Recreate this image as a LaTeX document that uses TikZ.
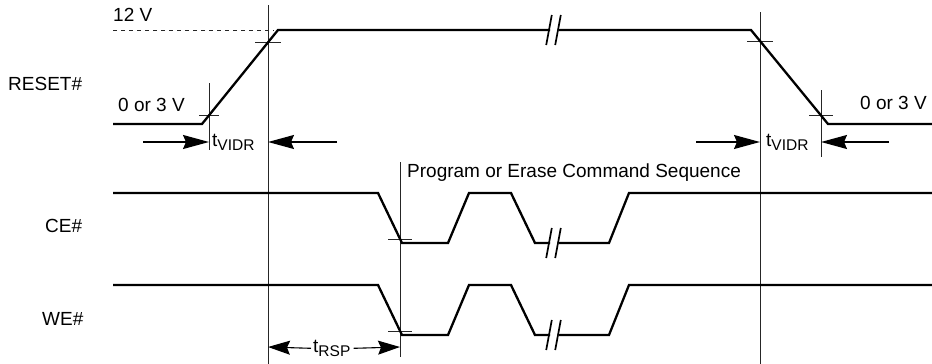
\documentclass[tikz,border=0pt]{standalone}
\usepackage{fontspec}
\setmainfont{Liberation Sans}
\usetikzlibrary{arrows.meta, calc}
\newcommand{\tsub}[1]{t\raisebox{-0.25em}{\fontsize{15.5}{16}\selectfont #1}}

\begin{document}
\begin{tikzpicture}[x=1pt, y=-1pt,
    sig/.style={line width=2.3pt, line join=miter},
    guide/.style={line width=0.8pt, black!85},
    brk/.style={line width=1.7pt},
    lbl/.style={font=\fontsize{19}{20}\selectfont, inner sep=0pt, anchor=base west},
    tarr/.style={-{Stealth[length=26pt, width=14pt, inset=3pt]}, line width=1.4pt},
    sarr/.style={-{Stealth[length=22pt, width=14pt, inset=3pt]}, line width=1.1pt}
  ]
  \useasboundingbox (0,0) rectangle (932,364);

  % signal names and levels
  \node[lbl] (nreset) at (8,90) {RESET\#};
  \node[lbl] (nce) at (45,232) {CE\#};
  \node[lbl] (nwe) at (42,325) {WE\#};
  \node[lbl] (v12) at (113,21) {12 V};
  \node[lbl] (vlowl) at (118,111) {0 or 3 V};
  \node[lbl] (vlowr) at (860,109) {0 or 3 V};
  \node[lbl] (cmdseq) at (407,177) {Program or Erase Command Sequence};

  % reference lines
  \draw[guide] (268,5) -- (268,364);
  \draw[guide] (209,83) -- (209,150);
  \draw[guide] (760,12) -- (760,364);
  \draw[guide] (821,90) -- (821,157);
  \draw[guide] (400,162) -- (400,357);
  \draw[guide, dashed, dash pattern=on 4pt off 4pt] (113,30) -- (274,30);

  % crossing ticks
  \foreach \tx/\ty/\tw in {268/42/13, 209/115/10, 760/41/13, 821/115/12, 400/239/12, 400/331/12}
    \draw[guide] (\tx-\tw,\ty) -- (\tx+\tw,\ty);

  % RESET#
  \draw[sig] (113,124) -- (202,124) -- (278,30) -- (550,30);
  \draw[sig] (559,30) -- (751,30) -- (828,124) -- (932,124);
  % CE#
  \draw[sig] (113,193) -- (378,193) -- (402,243) -- (448,243) -- (469,193)
    -- (511,193) -- (535,243) -- (550,243);
  \draw[sig] (559,243) -- (609,243) -- (629,193) -- (932,193);
  % WE#
  \draw[sig] (113,285) -- (378,285) -- (402,335) -- (448,335) -- (469,285)
    -- (511,285) -- (535,335) -- (550,335);
  \draw[sig] (559,335) -- (609,335) -- (629,285) -- (932,285);

  % breaks
  \foreach \by in {30, 243, 335}
    \foreach \bx in {549, 558}
      \draw[brk] (\bx-2.8,\by+15) -- (\bx+2.8,\by-15);

  % timing arrows
  \coordinate (a1) at (209,142);
  \coordinate (a2) at (268,142);
  \coordinate (a3) at (760,142);
  \coordinate (a4) at (821,142);
  \coordinate (r1) at (268,347);
  \coordinate (r2) at (400,347);
  \node[lbl] (tvl) at (212,146) {\tsub{VIDR}};
  \node[lbl] (tvr) at (766,146) {\tsub{VIDR}};
  \node[lbl] (trsp) at (313,352) {\tsub{RSP}};
  \draw[tarr] (143,142) -- (a1);
  \draw[tarr] (337,142) -- (a2);
  \draw[tarr] (696,142) -- (a3);
  \draw[tarr] (889,142) -- (a4);
  \draw[sarr] ($(trsp.west)+(-2,0)$) -- (r1);
  \draw[sarr] ($(trsp.east)+(3,0)$) -- (r2);
\end{tikzpicture}
\end{document}
